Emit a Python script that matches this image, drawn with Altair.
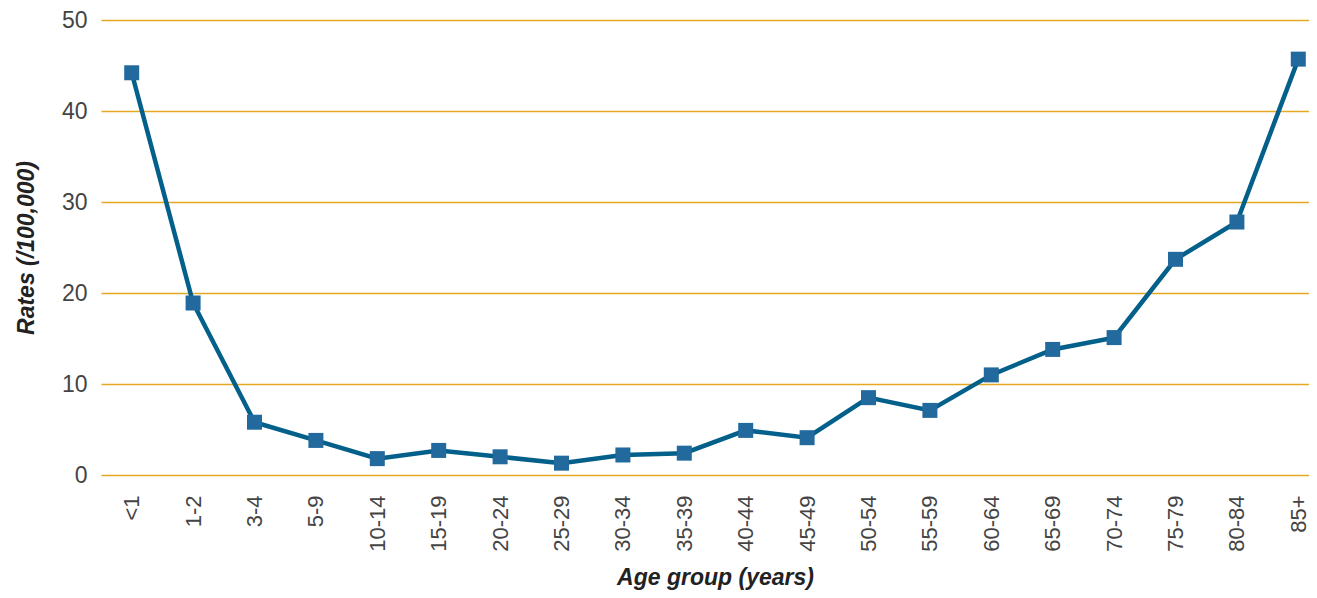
import altair as alt
import pandas as pd

ages = ["<1", "1-2", "3-4", "5-9", "10-14", "15-19", "20-24", "25-29", "30-34", "35-39",
        "40-44", "45-49", "50-54", "55-59", "60-64", "65-69", "70-74", "75-79", "80-84", "85+"]
rates = [44.2, 18.9, 5.8, 3.8, 1.8, 2.7, 2.0, 1.3, 2.2, 2.4,
         4.9, 4.1, 8.5, 7.1, 11.0, 13.8, 15.1, 23.7, 27.8, 45.7]

df = pd.DataFrame({"age": ages, "rate": rates})

FONT = "Liberation Sans"

x = alt.X("age:N", sort=ages, title="Age group (years)",
          scale=alt.Scale(padding=0.5),
          axis=alt.Axis(labelAngle=-90, labelFontSize=22, labelColor="#444444",
                        labelFont=FONT, labelPadding=20, ticks=False,
                        domain=False, grid=False, labelAlign="right", labelBaseline="middle",
                        titleFont=FONT, titleFontSize=23, titleFontStyle="italic",
                        titleFontWeight="bold", titleColor="#222222", titlePadding=15))
y = alt.Y("rate:Q", title="Rates (/100,000)",
          scale=alt.Scale(domain=[0, 50]),
          axis=alt.Axis(values=[0, 10, 20, 30, 40, 50], labelFontSize=23, labelColor="#444444",
                        labelFont=FONT, labelPadding=14, ticks=False, domain=False,
                        grid=True, gridColor="#E5A823", gridWidth=1.3, gridOpacity=1,
                        titleFont=FONT, titleFontSize=23, titleFontStyle="italic",
                        titleFontWeight="bold", titleColor="#222222", titlePadding=23))

base = alt.Chart(df).encode(x=x, y=y)
line = base.mark_line(color="#03608A", strokeWidth=4.5)
pts = base.mark_point(shape="square", filled=True, size=225, color="#22699D", opacity=1)

chart = (line + pts).properties(
    width=1228, height=455,
    autosize=alt.AutoSizeParams(type="none"),
    padding={"left": 93, "top": 12, "right": -20, "bottom": 115},
).configure_view(stroke=None)

chart.save("out.html", embed_options={"renderer": "svg", "actions": False})
